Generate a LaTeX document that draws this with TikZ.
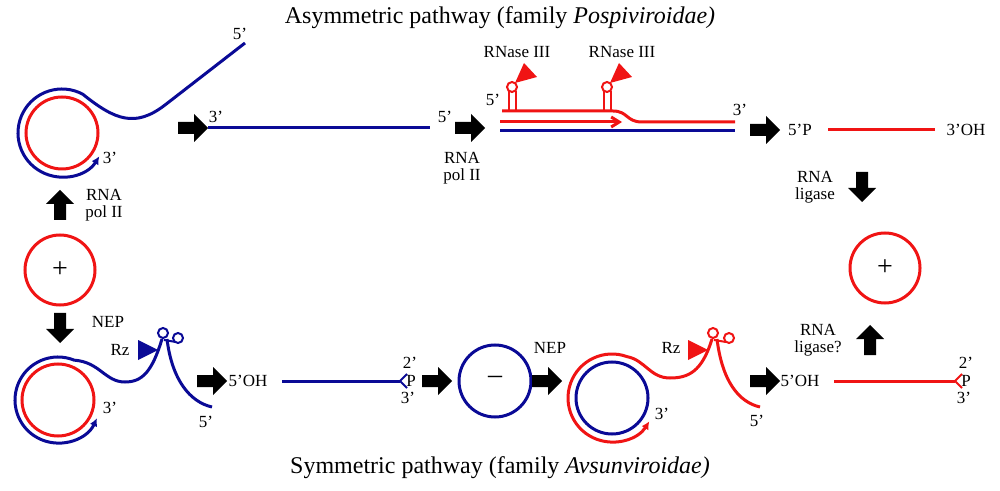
\documentclass[tikz,border=0pt]{standalone}
\usepackage{fontspec}
\setmainfont{Liberation Serif}
\usetikzlibrary{arrows.meta}
\definecolor{dblue}{RGB}{10,10,150}
\definecolor{dred}{RGB}{240,20,20}
\begin{document}
\begin{tikzpicture}[x=1pt,y=1pt,
  bs/.style={draw=dblue,line width=3},
  rs/.style={draw=dred,line width=3},
  lbl/.style={font=\fontsize{17}{17}\selectfont,inner sep=1},
  ttl/.style={font=\fontsize{24}{26}\selectfont},
  sgn/.style={font=\fontsize{28}{28}\selectfont},
  barr/.pic={\fill[black] (-15,-6) -- (1,-6) -- (1,-14) -- (15,0) -- (1,14) -- (1,6) -- (-15,6) -- cycle; \coordinate (-c) at (0,0);},
  tip/.style={-{Latex[length=8,width=8]}},
  loopc/.style={line width=2,fill=white,circle,inner sep=0,minimum size=10}]
\useasboundingbox (0,0) rectangle (1000,490);
\node[ttl] (t1) at (500,472) {Asymmetric pathway (family \textit{Pospiviroidae)}};
\node[ttl] (t2) at (500,22) {Symmetric pathway (family \textit{Avsunviroidae)}};
% top-left rolling circle
\draw[rs] (62,357) circle (36);
\draw[bs,tip] (245,447) -- (165,385) .. controls (135,362) and (115,370) .. ({62+44*cos(62)},{357+44*sin(62)}) arc (62:328:44);
\node[lbl] (a5) at (240,456) {5’};
\node[lbl] (a3) at (110,332) {3’};
% linear strand
\pic (ar1) at (193,362) {barr};
\draw[bs] (208,362) coordinate (l1a) -- (430,362) coordinate (l1b);
\node[lbl] (b3) at (216,373) {3’};
\node[lbl] (b5) at (445,373) {5’};
\pic (ar2) at (470,362) {barr};
\node[lbl,align=center] (pol1) at (462,322) {RNA\\pol II};
% dsRNA complex
\draw[bs] (500,359) -- (735,359);
\draw[draw=dred,line width=3,-{Straight Barb[length=8,width=10]}] (500,368) -- (622,368);
\draw[rs] (502,379) -- (613,379) .. controls (628,379) and (626,368) .. (642,368) -- (735,368);
\foreach \x/\n in {512/h1,607/h2}{
  \draw[draw=dred,line width=2] (\x-3.5,379) -- (\x-3.5,399) (\x+3.5,379) -- (\x+3.5,399);
  \node[loopc,draw=dred] (\n) at (\x,403) {};
}
\fill[dred] (515,407) -- (524,427) -- (537,413) -- cycle;
\fill[dred] (610,407) -- (619,427) -- (632,413) -- cycle;
\node[lbl] (rn1) at (517,438) {RNase III};
\node[lbl] (rn2) at (622,438) {RNase III};
\node[lbl] (c5) at (493,390) {5’};
\node[lbl] (c3) at (740,380) {3’};
\pic (ar3) at (765,360) {barr};
\node[lbl] (p5) at (800,360) {5’P};
\draw[rs] (828,360) -- (935,360);
\node[lbl] (oh3) at (966,360) {3’OH};
% right side
\pic[rotate=-90] (ar4) at (862,303) {barr};
\node[lbl,align=center] (lig1) at (815,303) {RNA\\ligase};
\draw[rs] (885,222) circle (35);
\node[sgn] (plus2) at (885,222) {+};
\pic[rotate=90] (ar5) at (870,150) {barr};
\node[lbl,align=center] (lig2) at (818,150) {RNA\\ligase?};
% left side
\pic[rotate=90] (ar6) at (60,285) {barr};
\node[lbl,align=center] (pol2) at (104,285) {RNA\\pol II};
\draw[rs] (60,220) circle (35);
\node[sgn] (plus1) at (60,220) {+};
\pic[rotate=-90] (ar7) at (60,162) {barr};
\node[lbl] (nep1) at (108,168) {NEP};
% bottom-left rolling circle with hammerhead
\draw[rs] (58,90) circle (36);
\draw[bs,tip] (162,151) .. controls (152,118) and (142,108) .. (125,108) .. controls (105,108) and (100,128) .. ({58+43*cos(68)},{90+43*sin(68)}) arc (68:335:43);
\draw[bs] (167,151) .. controls (172,110) and (190,88) .. (212,83);
\draw[draw=dblue,line width=2] (164,150) -- (176,148);
\node[loopc,draw=dblue] (hz1) at (163,157) {};
\node[loopc,draw=dblue] (hz2) at (178,152) {};
\fill[dblue] (138,150) -- (138,130) -- (158,140) -- cycle;
\node[lbl] (rz1) at (120,140) {Rz};
\node[lbl] (d5) at (206,68) {5’};
\node[lbl] (d3) at (110,82) {3’};
\pic (ar8) at (212,109) {barr};
\node[lbl] (oh1) at (248,109) {5’OH};
\draw[bs] (282,109) -- (400,109);
\draw[draw=dblue,line width=2] (400,109) -- (407,116) (400,109) -- (407,102);
\node[lbl] (b2p) at (410,127) {2’};
\node[lbl] (bP) at (411,109) {P};
\node[lbl] (b3p) at (408,92) {3’};
\pic (ar9) at (437,109) {barr};
\draw[bs] (495,109) circle (36);
\node[sgn] (minus) at (495,110) {--};
\node[lbl] (nep2) at (550,142) {NEP};
\pic (ar10) at (547,109) {barr};
% bottom-middle complex
\draw[bs] (612,92) circle (36);
\draw[rs,tip] (712,151) .. controls (702,118) and (688,112) .. (670,112) .. controls (650,112) and (645,130) .. ({612+44*cos(70)},{92+44*sin(70)}) arc (70:328:44);
\draw[rs] (717,151) .. controls (722,110) and (738,88) .. (760,83);
\draw[draw=dred,line width=2] (714,150) -- (726,148);
\node[loopc,draw=dred] (hz3) at (713,157) {};
\node[loopc,draw=dred] (hz4) at (729,152) {};
\fill[dred] (688,150) -- (688,130) -- (708,140) -- cycle;
\node[lbl] (rz2) at (671,142) {Rz};
\node[lbl] (e5) at (757,69) {5’};
\node[lbl] (e3) at (662,76) {3’};
\pic (ar11) at (765,109) {barr};
\node[lbl] (oh2) at (800,109) {5’OH};
\draw[rs] (834,109) -- (955,109);
\draw[draw=dred,line width=2] (955,109) -- (962,116) (955,109) -- (962,102);
\node[lbl] (r2p) at (966,127) {2’};
\node[lbl] (rP) at (966,109) {P};
\node[lbl] (r3p) at (964,92) {3’};
\end{tikzpicture}
\end{document}
